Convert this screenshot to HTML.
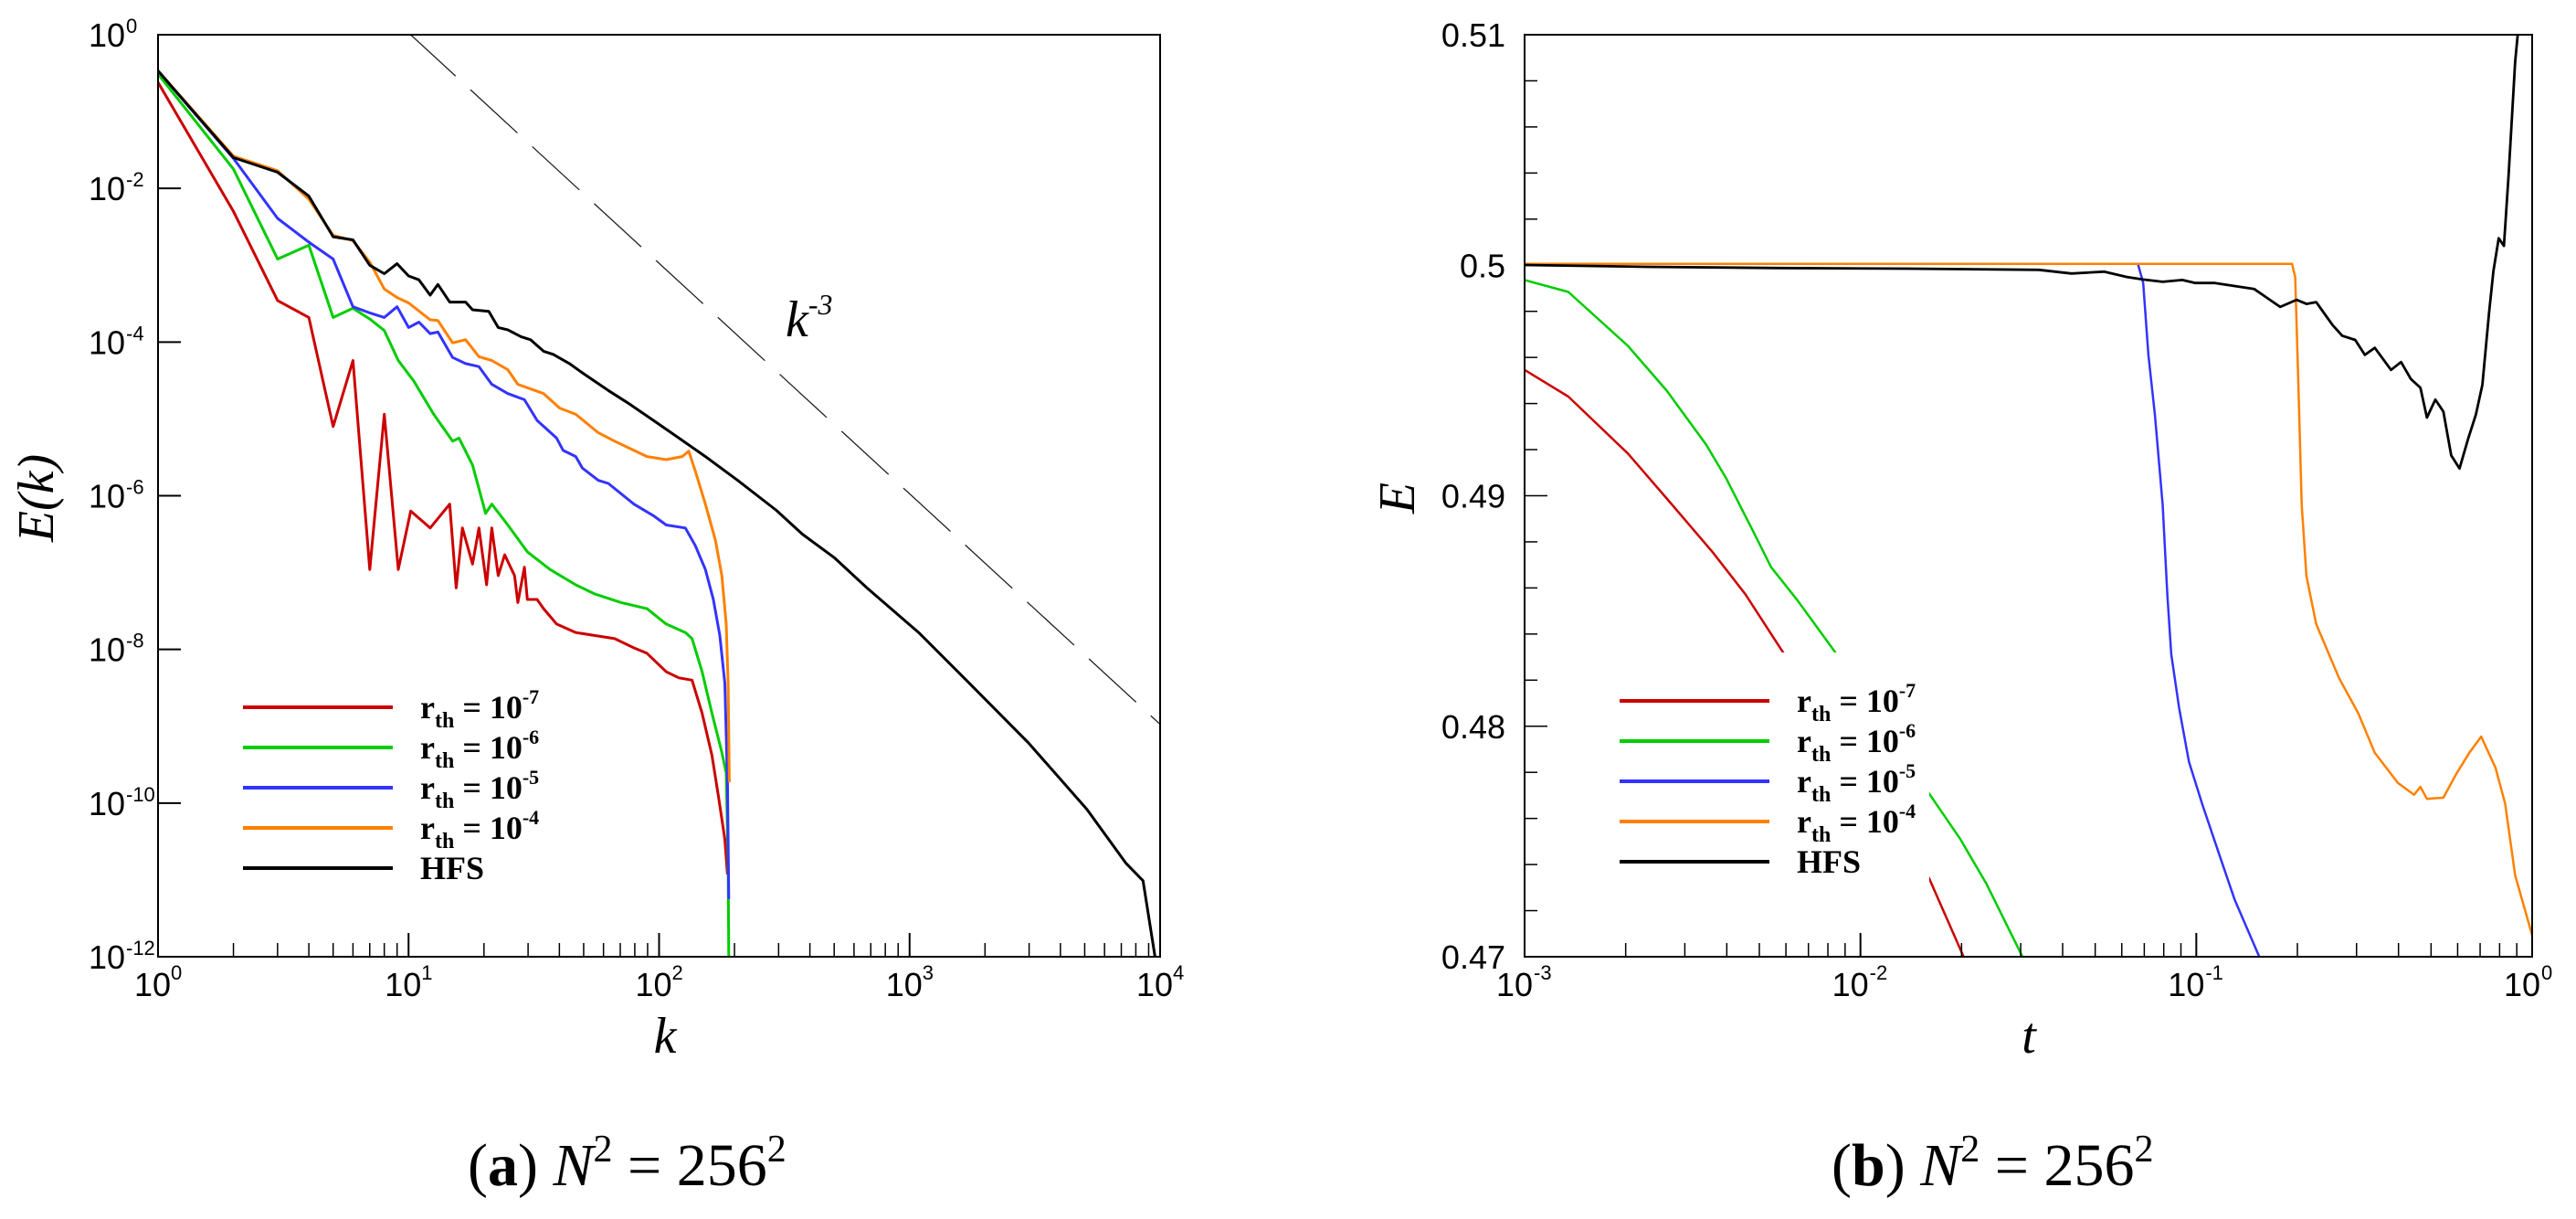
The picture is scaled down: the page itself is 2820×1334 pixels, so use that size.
<!DOCTYPE html>
<html><head><meta charset="utf-8"><style>
html,body{margin:0;padding:0;background:#fff;}
svg{display:block;}
.tl{font-family:"Liberation Sans",sans-serif;font-size:36px;fill:#000;}
.te{font-family:"Liberation Sans",sans-serif;font-size:22px;fill:#000;}
.lg{font-family:"Liberation Serif",serif;font-weight:bold;font-size:36px;fill:#000;}
.ti{font-family:"Liberation Serif",serif;font-style:italic;font-size:56px;fill:#000;}
.cap{font-family:"Liberation Serif",serif;font-size:66px;fill:#000;}
</style></head><body>
<svg id="fig" width="2820" height="1334" viewBox="0 0 2820 1334" xmlns="http://www.w3.org/2000/svg">
<defs>
<clipPath id="clipL"><rect x="173" y="38" width="1097" height="1009"/></clipPath>
<clipPath id="clipR"><rect x="1669" y="38" width="1103" height="1009"/></clipPath>
</defs>
<g id="left"></g>
<g id="right"></g>
<text class="cap" x="512" y="1297">(<tspan font-weight="bold">a</tspan>) <tspan font-style="italic">N</tspan><tspan font-size="42" dy="-26">2</tspan><tspan dy="26"> = 256</tspan><tspan font-size="42" dy="-26">2</tspan></text>
<text class="cap" x="2005" y="1297">(<tspan font-weight="bold">b</tspan>) <tspan font-style="italic">N</tspan><tspan font-size="42" dy="-26">2</tspan><tspan dy="26"> = 256</tspan><tspan font-size="42" dy="-26">2</tspan></text>
</svg>
<script>
// ---- Left chart data: wavenumber k and log10 E(k) ----
const hfsK = [1,2,3,4,5,6,7,8,9,10,11,12.2,13.1,14.6,16.9,18,20.9,22.8,24.9,28.1,30.7,34.6,37.8,43.9,49.4,62.7,74.9,95,120,153,206,294,373,502,676,1087,1648,2987,5100,7290,8550,9530];
const hfsLogE = [-0.47,-1.60,-1.79,-2.10,-2.63,-2.67,-3.00,-3.11,-2.98,-3.14,-3.19,-3.39,-3.25,-3.48,-3.48,-3.58,-3.60,-3.81,-3.84,-3.93,-3.97,-4.12,-4.16,-4.28,-4.40,-4.63,-4.79,-5.02,-5.25,-5.49,-5.80,-6.19,-6.50,-6.81,-7.20,-7.78,-8.37,-9.22,-10.08,-10.78,-11.01,-11.99];
const r4K = [1,2,3,4,5,6,7,8,9,10,12.2,13.1,15,16.9,19.1,21.5,24.9,27.3,34.6,40.1,46.5,57.2,66.5,79.4,89.4,106.8,123.8,131.4,139.6,153,167.9,178,185.3,188.6,190.8];
const r4LogE = [-0.47,-1.58,-1.77,-2.14,-2.61,-2.68,-2.96,-3.31,-3.42,-3.49,-3.71,-3.72,-4.01,-3.97,-4.19,-4.24,-4.36,-4.55,-4.67,-4.86,-4.94,-5.18,-5.29,-5.41,-5.49,-5.53,-5.49,-5.42,-5.68,-6.11,-6.58,-7.04,-7.67,-8.44,-9.73];
const r5K = [1,2,3,4,5,6,7,8,9,10,11,12.2,13.1,15,16.9,19.1,21.5,24.9,29,32.6,39,41.4,46.5,49.4,57.2,62.7,79.4,95,106.8,127.4,139.6,153,164.6,174.8,183.1,187.5,189.7];
const r5LogE = [-0.47,-1.61,-2.39,-2.70,-2.92,-3.54,-3.62,-3.68,-3.54,-3.81,-3.74,-3.89,-3.87,-4.20,-4.28,-4.32,-4.55,-4.67,-4.75,-5.02,-5.25,-5.41,-5.49,-5.64,-5.80,-5.84,-6.11,-6.26,-6.38,-6.42,-6.65,-6.96,-7.35,-7.82,-8.44,-9.73,-11.25];
const r6K = [1,2,3,4,5,6,7,8,9.1,10.5,12.6,15,15.9,18,20.3,21.5,24.9,29.8,36.7,46.5,55.5,70.6,89.4,106.8,127.4,135.4,148.5,162.6,178,185.3,188.6,189.7];
const r6LogE = [-0.51,-1.75,-2.92,-2.74,-3.68,-3.56,-3.70,-3.85,-4.24,-4.51,-4.94,-5.29,-5.25,-5.60,-6.23,-6.11,-6.38,-6.73,-6.96,-7.16,-7.28,-7.39,-7.47,-7.67,-7.78,-7.86,-8.29,-8.83,-9.34,-9.61,-10.78,-11.99];
const r7K = [1,2,3,4,5,6,7,8,9.1,10.2,12.2,14.6,15.5,16.4,18,19.1,20.5,21.5,22.8,24.2,26.5,27.3,29,29.8,32.6,34.6,39,46.5,55.5,66.5,79.4,89.4,106.8,120,135.4,148.5,162.6,172.7,183.1,187.5];
const r7LogE = [-0.62,-2.30,-3.46,-3.68,-5.10,-4.24,-6.96,-4.94,-6.96,-6.20,-6.42,-6.11,-7.20,-6.42,-6.89,-6.42,-7.16,-6.42,-7.04,-6.77,-7.04,-7.39,-6.93,-7.35,-7.35,-7.47,-7.67,-7.78,-7.82,-7.86,-7.98,-8.05,-8.29,-8.37,-8.40,-8.83,-9.38,-9.92,-10.47,-10.93];
const refSlopeC = 1060;         // reference line E = C k^-3
const refExponent = -3;
const refKRange = [10, 10000];
const leftYTickExps = [0,-2,-4,-6,-8,-10,-12];
const leftXTickExps = [0,1,2,3,4];

// ---- Right chart data: time t and energy E ----
const hfsT = [0.001,0.00232,0.00567,0.01387,0.034,0.0425,0.0531,0.0621,0.0695,0.0794,0.0909,0.0994,0.1137,0.130,0.1486,0.1626,0.1778,0.1988,0.2128,0.2275,0.2543,0.2719,0.2973,0.3177,0.340,0.380,0.407,0.435,0.465,0.486,0.515,0.544,0.574,0.608,0.645,0.680,0.711,0.744,0.767,0.795,0.824,0.851,0.890,0.906];
const hfsE = [0.50001,0.49993,0.49988,0.49985,0.4998,0.49964,0.49972,0.49949,0.49938,0.49928,0.49936,0.49923,0.49923,0.4991,0.49897,0.49858,0.49819,0.4985,0.49832,0.4984,0.49741,0.49694,0.49676,0.49611,0.49642,0.49546,0.4958,0.49507,0.49468,0.49339,0.49417,0.49365,0.49175,0.49118,0.49248,0.49352,0.49481,0.49793,0.49975,0.50117,0.50084,0.5039,0.50883,0.51];
const o4T = [0.001,0.1927,0.197,0.2014,0.206,0.2128,0.2275,0.266,0.304,0.340,0.398,0.445,0.465,0.486,0.544,0.595,0.650,0.705,0.778,0.831,0.890,1.0];
const o4E = [0.50006,0.50006,0.49949,0.49481,0.48962,0.48651,0.48443,0.4821,0.48054,0.47885,0.47755,0.47703,0.47737,0.47685,0.4769,0.47794,0.47885,0.47955,0.4782,0.47665,0.47353,0.47093];
const o5T = [0.001,0.067,0.0695,0.072,0.0753,0.0794,0.082,0.0842,0.0889,0.0951,0.104,0.1162,0.130,0.1541];
const o5E = [0.50006,0.50006,0.49923,0.49611,0.49352,0.48962,0.48573,0.48313,0.4808,0.47846,0.47665,0.47457,0.47249,0.46999];
const o6T = [0.001,0.00135,0.00203,0.00265,0.00347,0.00397,0.00474,0.00542,0.00649,0.00776,0.00849,0.01588,0.01986,0.02377,0.0304];
const o6E = [0.49936,0.49884,0.4965,0.49456,0.49222,0.49079,0.48859,0.4869,0.48547,0.48391,0.48313,0.47716,0.47509,0.47314,0.46999];
const o7T = [0.001,0.00135,0.00203,0.00265,0.00363,0.00454,0.00593,0.01602,0.0203];
const o7E = [0.49546,0.4943,0.49183,0.48988,0.48755,0.48573,0.48313,0.4734,0.46999];
const rightYTicks = [0.47,0.48,0.49,0.5,0.51];
const rightYTickLabels = ["0.47","0.48","0.49","0.5","0.51"];
const rightXTickExps = [-3,-2,-1,0];

const legendLabels = ["-7","-6","-5","-4","HFS"];
const seriesColors = ["#cc0000","#00cc00","#3333ff","#ff8000","#000000"];
const seriesNames = ["rth-1e-7","rth-1e-6","rth-1e-5","rth-1e-4","hfs"];

const NS = "http://www.w3.org/2000/svg";
function mk(tag, attrs, parent){ const e=document.createElementNS(NS,tag); for(const k in attrs) e.setAttribute(k,attrs[k]); parent.appendChild(e); return e; }

// Axis functions
const LX0=173, LX1=1270, LY0=38, LY1=1047;
function lx(k){ return LX0 + Math.log10(k)*(LX1-LX0)/4; }
function ly(logE){ return LY0 - logE*(LY1-LY0)/12; }
const RX0=1669, RX1=2772, RY0=38, RY1=1047;
function rx(t){ return RX0 + (Math.log10(t)+3)*(RX1-RX0)/3; }
function ry(E){ return RY0 + (0.51-E)*(RY1-RY0)/0.04; }

const L = document.getElementById('left');
const R = document.getElementById('right');

function poly(parent, xs, ys, fx, fy, color, w, name, clip){
  const pts = xs.map((v,i)=>fx(v).toFixed(1)+','+fy(ys[i]).toFixed(1)).join(' ');
  const p = mk('polyline',{points:pts,fill:'none',stroke:color,'stroke-width':w,'stroke-linejoin':'round','clip-path':'url(#'+clip+')'},parent);
  
  
  return p;
}

// ---------- LEFT CHART ----------
// reference k^-3 line
(function(){
  const k0=refKRange[0], k1=refKRange[1];
  const l = mk('line',{x1:lx(k0),y1:ly(Math.log10(refSlopeC*Math.pow(k0,refExponent))),x2:lx(k1),y2:ly(Math.log10(refSlopeC*Math.pow(k1,refExponent))),stroke:'#222','stroke-width':1.3,'stroke-dasharray':'70 22','clip-path':'url(#clipL)'},L);
  
  
})();
poly(L, r7K, r7LogE, lx, ly, seriesColors[0], 3, 'spectrum-line-rth-1e-7', 'clipL');
poly(L, r6K, r6LogE, lx, ly, seriesColors[1], 3, 'spectrum-line-rth-1e-6', 'clipL');
poly(L, r5K, r5LogE, lx, ly, seriesColors[2], 3, 'spectrum-line-rth-1e-5', 'clipL');
poly(L, r4K, r4LogE, lx, ly, seriesColors[3], 3, 'spectrum-line-rth-1e-4', 'clipL');
poly(L, hfsK, hfsLogE, lx, ly, seriesColors[4], 3, 'spectrum-line-hfs', 'clipL');

// frame
(function(){
  const f = mk('rect',{x:LX0,y:LY0,width:LX1-LX0,height:LY1-LY0,fill:'none',stroke:'#000','stroke-width':2},L);
  
  
  leftYTickExps.forEach(ex=>{
    const y=ly(ex);
    mk('line',{x1:LX0,y1:y,x2:LX0+25,y2:y,stroke:'#000','stroke-width':2},L);
    const t=mk('text',{class:'tl',x:137,y:y+13,'text-anchor':'end'},L);
    t.textContent='10';
    
    
    const s=mk('text',{class:'te',x:138,y:y-2},L);
    s.textContent=String(ex);
  });
  leftXTickExps.forEach(ex=>{
    const x=lx(Math.pow(10,ex));
    mk('line',{x1:x,y1:LY1,x2:x,y2:LY1-26,stroke:'#000','stroke-width':2},L);
    if(ex<4){ for(let m=2;m<10;m++){ const xm=lx(m*Math.pow(10,ex)); mk('line',{x1:xm,y1:LY1,x2:xm,y2:LY1-15,stroke:'#000','stroke-width':1.5},L);} }
    const t=mk('text',{class:'tl',x:x-6,y:1090,'text-anchor':'middle'},L);
    t.textContent='10';
    
    
    const s=mk('text',{class:'te',x:x+14,y:1072},L);
    s.textContent=String(ex);
  });
})();
// k^-3 annotation
(function(){
  const t=mk('text',{class:'ti',x:860,y:368,'font-size':'50'},L);
  t.innerHTML='k<tspan font-size="32" dy="-24">-3</tspan>';
  
  
  const yt=mk('text',{class:'ti',x:0,y:0,transform:'translate(58,545) rotate(-90)','text-anchor':'middle','font-size':'54'},L);
  yt.textContent='E(k)';
  
  
  const xt=mk('text',{class:'ti',x:728,y:1152,'text-anchor':'middle'},L);
  xt.textContent='k';
  
  
})();

// legend builder
function legend(parent, x0, y0, dy, boxRect, name){
  const g=mk('g',{},parent);
  
  
  if(boxRect) mk('rect',{x:boxRect[0],y:boxRect[1],width:boxRect[2],height:boxRect[3],fill:'#fff'},g);
  legendLabels.forEach((lab,i)=>{
    const y=y0+i*dy;
    const ln=mk('line',{x1:x0,y1:y,x2:x0+164,y2:y,stroke:seriesColors[i],'stroke-width':4},g);
    
    
    const t=mk('text',{class:'lg',x:x0+194,y:y+12},g);
    
    
    if(lab==='HFS'){ t.textContent='HFS'; }
    else { t.innerHTML='r<tspan font-size="24" dy="10">th</tspan><tspan dy="-10"> = 10</tspan><tspan font-size="22" dy="-16">'+lab+'</tspan>'; }
  });
}
legend(L, 266, 774, 44, null, 'left-legend');

// ---------- RIGHT CHART ----------
poly(R, o7T, o7E, rx, ry, seriesColors[0], 2.5, 'energy-line-rth-1e-7', 'clipR');
poly(R, o6T, o6E, rx, ry, seriesColors[1], 2.5, 'energy-line-rth-1e-6', 'clipR');
poly(R, o5T, o5E, rx, ry, seriesColors[2], 2.5, 'energy-line-rth-1e-5', 'clipR');
poly(R, o4T, o4E, rx, ry, seriesColors[3], 2.5, 'energy-line-rth-1e-4', 'clipR');
poly(R, hfsT, hfsE, rx, ry, seriesColors[4], 2.8, 'energy-line-hfs', 'clipR');
legend(R, 1773, 767, 44, [1755,714,357,262], 'right-legend');
(function(){
  const f = mk('rect',{x:RX0,y:RY0,width:RX1-RX0,height:RY1-RY0,fill:'none',stroke:'#000','stroke-width':2},R);
  
  
  for(let i=0;i<=20;i++){
    const E=0.47+i*0.002; const y=ry(E); const major=(i%5===0);
    mk('line',{x1:RX0,y1:y,x2:RX0+(major?25:14),y2:y,stroke:'#000','stroke-width':1.5},R);
  }
  rightYTicks.forEach((v,i)=>{
    const t=mk('text',{class:'tl',x:1648,y:ry(v)+13,'text-anchor':'end'},R);
    t.textContent=rightYTickLabels[i];
    
    
  });
  rightXTickExps.forEach(ex=>{
    const x=rx(Math.pow(10,ex));
    mk('line',{x1:x,y1:RY1,x2:x,y2:RY1-26,stroke:'#000','stroke-width':2},R);
    if(ex<0){ for(let m=2;m<10;m++){ const xm=rx(m*Math.pow(10,ex)); mk('line',{x1:xm,y1:RY1,x2:xm,y2:RY1-15,stroke:'#000','stroke-width':1.5},R);} }
    const t=mk('text',{class:'tl',x:x-11,y:1090,'text-anchor':'middle'},R);
    t.textContent='10';
    
    
    const s=mk('text',{class:'te',x:x+10,y:1072},R);
    s.textContent=String(ex);
  });
  const yt=mk('text',{class:'ti',x:0,y:0,transform:'translate(1548,545) rotate(-90)','text-anchor':'middle','font-size':'54'},R);
  yt.textContent='E';
  
  
  const xt=mk('text',{class:'ti',x:2221,y:1152,'text-anchor':'middle'},R);
  xt.textContent='t';
  
  
})();
</script>
</body></html>
